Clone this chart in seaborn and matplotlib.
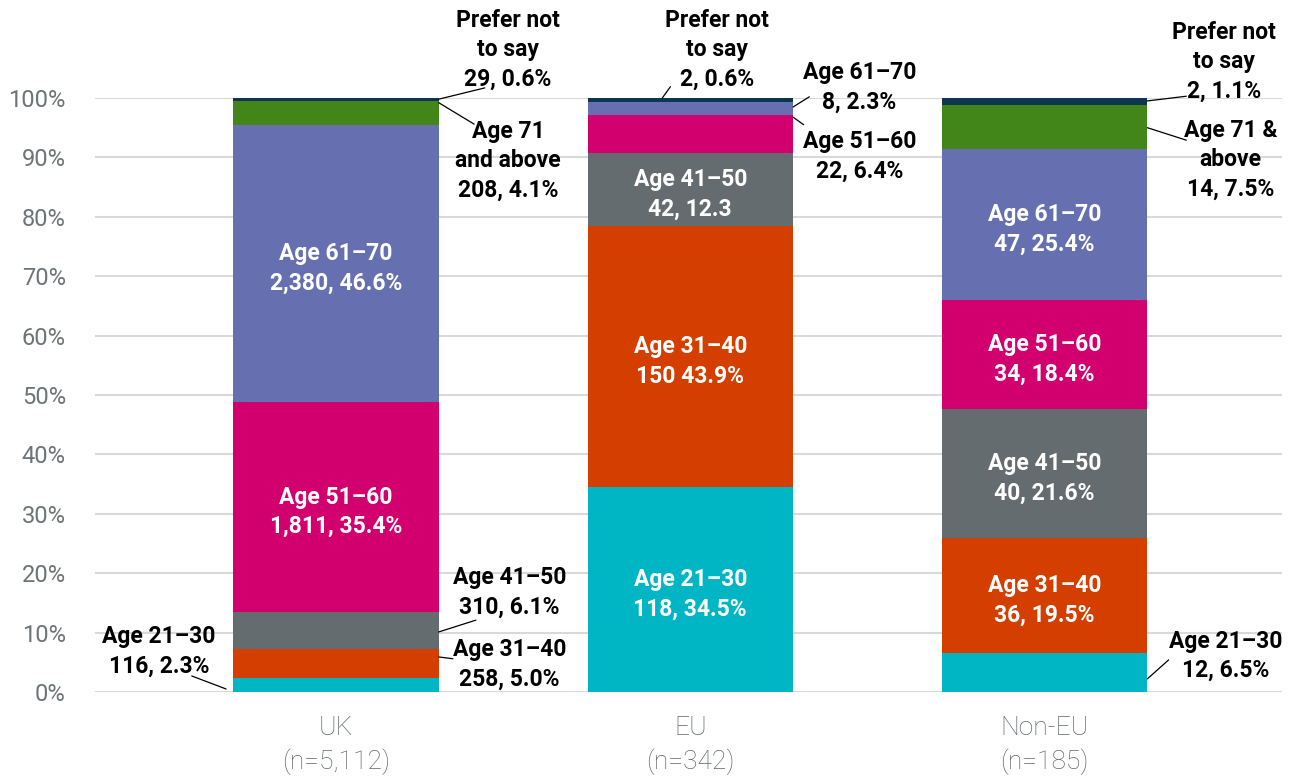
import numpy as np
import pandas as pd
import matplotlib
matplotlib.use('Agg')
import matplotlib.pyplot as plt
import seaborn as sns

# categories
groups = ['UK\n(n=5,112)', 'EU\n(n=342)', 'Non-EU\n(n=185)']
bands = ['Age 21–30', 'Age 31–40', 'Age 41–50', 'Age 51–60',
         'Age 61–70', 'Age 71 and above', 'Prefer not to say']
band_colors = ['#00b6c4', '#d43f00', '#656c6f', '#d2006f',
               '#6670b0', '#42861a', '#0e3650']

# percentage of each group (bottom to top)
uk_pct = [2.3, 5.0, 6.1, 35.4, 46.6, 4.1, 0.6]
eu_pct = [34.5, 43.9, 12.3, 6.4, 2.3, 0.0, 0.6]
noneu_pct = [6.5, 19.5, 21.6, 18.4, 25.4, 7.5, 1.1]

# segment labels as printed on the chart
uk_labels = ['Age 21–30\n116, 2.3%', 'Age 31–40\n258, 5.0%', 'Age 41–50\n310, 6.1%',
             'Age 51–60\n1,811, 35.4%', 'Age 61–70\n2,380, 46.6%',
             'Age 71\nand above\n208, 4.1%', 'Prefer not\nto say\n29, 0.6%']
eu_labels = ['Age 21–30\n118, 34.5%', 'Age 31–40\n150 43.9%', 'Age 41–50\n42, 12.3',
             'Age 51–60\n22, 6.4%', 'Age 61–70\n8, 2.3%', '',
             'Prefer not\nto say\n2, 0.6%']
noneu_labels = ['Age 21–30\n12, 6.5%', 'Age 31–40\n36, 19.5%', 'Age 41–50\n40, 21.6%',
                'Age 51–60\n34, 18.4%', 'Age 61–70\n47, 25.4%',
                'Age 71 &\nabove\n14, 7.5%', 'Prefer not\nto say\n2, 1.1%']

# labels placed outside the bar with a leader line:
# (group, band, anchor dx, anchor frac of segment, line end dx, line end y, text dx, text y)
outside = [
    (0, 6, 0.29, 0.5, 0.42, 101.7, 0.486, 108.1),
    (0, 5, 0.29, 0.93, 0.39, 95.6, 0.486, 89.4),
    (0, 2, 0.29, 0.46, 0.395, 12.1, 0.49, 16.75),
    (0, 1, 0.29, 0.72, 0.33, 5.6, 0.49, 4.7),
    (0, 0, -0.31, 0.22, -0.407, 2.7, -0.50, 6.8),
    (1, 6, -0.079, 1.0, -0.056, 101.9, 0.076, 108.1),
    (1, 4, 0.29, 0.6, 0.336, 100.2, 0.477, 101.8),
    (1, 3, 0.29, 0.95, 0.32, 95.5, 0.477, 90.2),
    (2, 6, 0.29, 0.55, 0.40, 100.3, 0.506, 106.1),
    (2, 5, 0.29, 0.48, 0.40, 92.9, 0.525, 89.6),
    (2, 0, 0.29, 0.34, 0.35, 5.4, 0.51, 6.1),
]

sns.set_theme(style='white')
plt.rcParams['font.family'] = ['Roboto', 'DejaVu Sans']

df = pd.DataFrame({
    'group': np.repeat(groups, len(bands)),
    'band': bands * len(groups),
    'pct': uk_pct + eu_pct + noneu_pct,
    'label': uk_labels + eu_labels + noneu_labels,
})

fig = plt.figure(figsize=(13.06, 7.76), dpi=100)
ax = fig.add_axes([95 / 1306, 1 - 692 / 776, (1282 - 95) / 1306, (692 - 98) / 776])

bottom = np.zeros(len(groups))
for band, color in zip(bands, band_colors):
    sub = df[df.band == band]
    sns.barplot(data=sub, x='group', y='pct', order=groups, color=color,
                saturation=1, width=0.58, bottom=bottom.copy(), errorbar=None,
                linewidth=0, ax=ax, zorder=2)
    bottom += sub.pct.to_numpy()

ax.set_xlim(-0.68, 2.67)
ax.set_ylim(0, 100)
ax.set_yticks(range(0, 101, 10))
ax.set_yticklabels([f'{v}%' for v in range(0, 101, 10)])
ax.yaxis.grid(True, color='#d9d9d9', lw=1.5, zorder=0)
ax.set_axisbelow(True)
ax.set_xlabel('')
ax.set_ylabel('')
sns.despine(ax=ax, left=True, bottom=True)
ax.tick_params(axis='y', length=0, pad=21, labelsize=17, labelcolor='#6d7478')
ax.tick_params(axis='x', length=0, pad=17, labelsize=19, labelcolor='#60666a')
for t in ax.get_xticklabels():
    t.set_fontweight('light')
    t.set_linespacing(1.45)

out_keys = {(g, b) for g, b, *_ in outside}
txt_kw = dict(ha='center', va='center', fontsize=16.5, fontweight='bold',
              linespacing=1.36, clip_on=False)

for gi, g in enumerate(groups):
    sub = df[df.group == g].reset_index(drop=True)
    base = np.concatenate([[0], np.cumsum(sub.pct.to_numpy())[:-1]])
    for bi in range(len(bands)):
        if (gi, bi) in out_keys or sub.label[bi] == '':
            continue
        ax.text(gi, base[bi] + sub.pct[bi] / 2 - 0.8, sub.label[bi], color='white', **txt_kw)

for gi, bi, adx, afrac, ldx, ly, tdx, ty in outside:
    sub = df[df.group == groups[gi]].reset_index(drop=True)
    base = sub.pct.cumsum().to_numpy() - sub.pct.to_numpy()
    ay = base[bi] + afrac * sub.pct[bi]
    ax.plot([gi + adx, gi + ldx], [ay, ly], color='black', lw=0.9,
            clip_on=False, zorder=3)
    ax.text(gi + tdx, ty, sub.label[bi], color='black', **txt_kw)

fig.savefig('out.png', dpi=100)
